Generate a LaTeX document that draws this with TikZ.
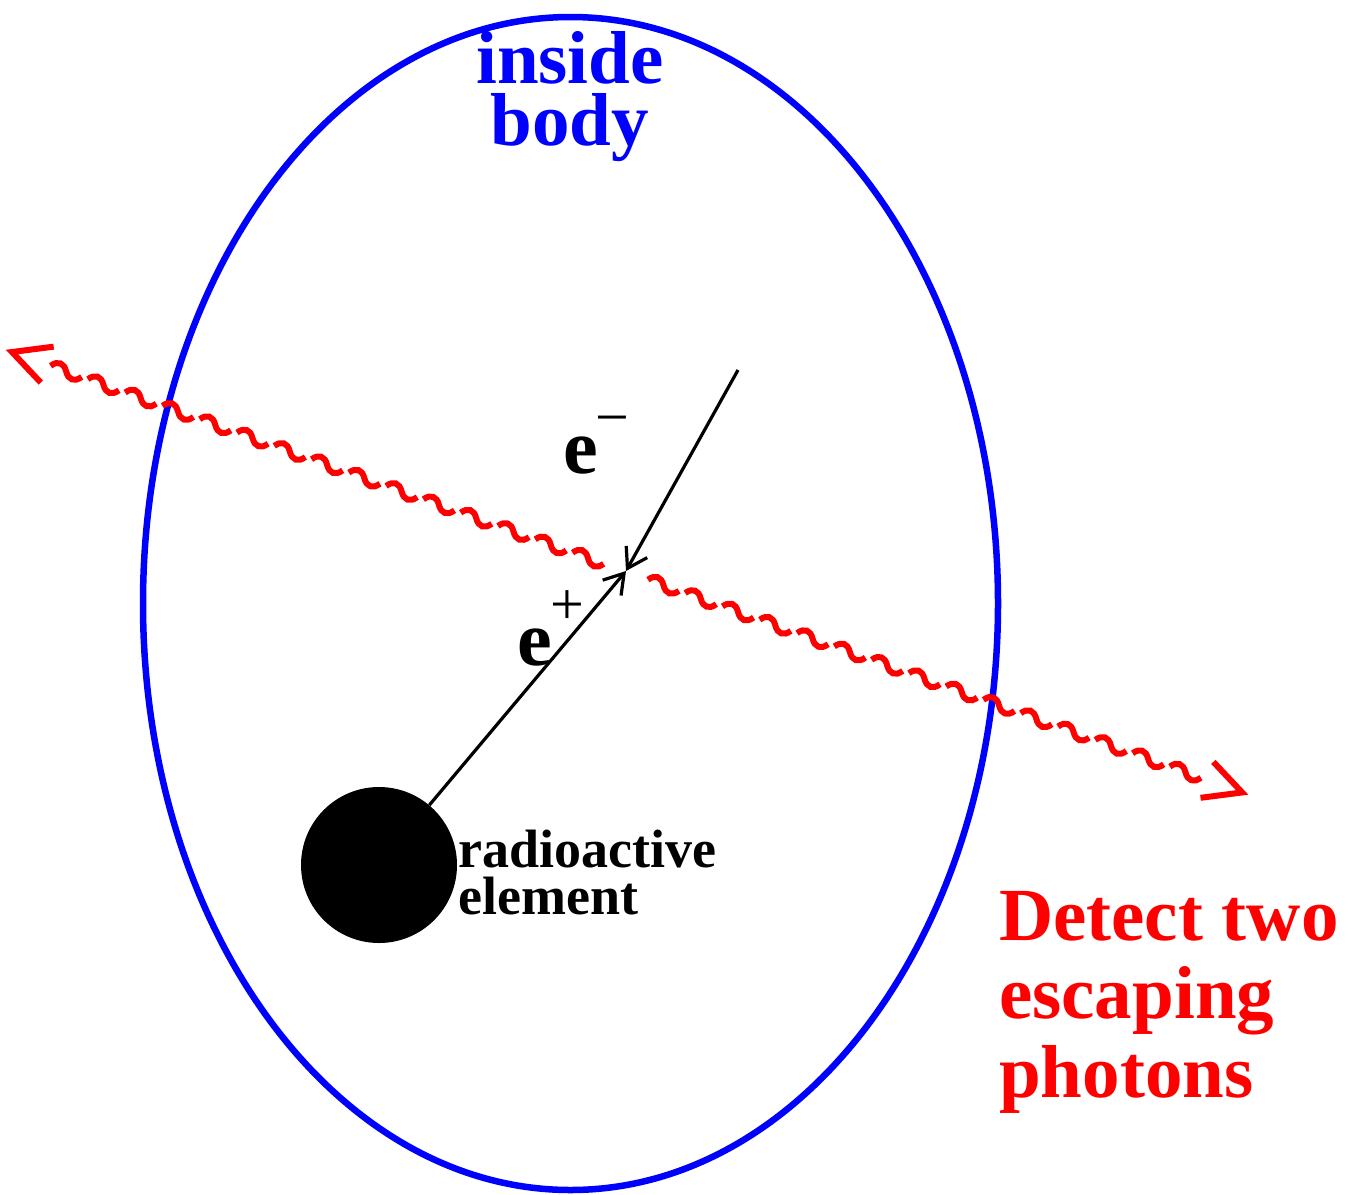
\documentclass[tikz,border=0pt]{standalone}
\usepackage{fontspec}
\setmainfont{Liberation Serif}
\usetikzlibrary{arrows.meta}
\begin{document}
\begin{tikzpicture}[x=1pt,y=-1pt,
  bodyline/.style={draw=blue, line width=6.5pt},
  photon/.style={draw=red, line width=6pt},
  eline/.style={draw=black, line width=3.2pt, -{Straight Barb[length=19pt,width=24pt]}},
  bigtxt/.style={inner sep=0pt, font=\bfseries\fontsize{75}{75}\selectfont},
  midtxt/.style={inner sep=0pt, font=\bfseries\fontsize{54}{54}\selectfont},
  suptxt/.style={inner sep=0pt, font=\fontsize{60}{60}\selectfont},
  etxt/.style={inner sep=0pt, font=\bfseries\fontsize{78}{78}\selectfont}]
\useasboundingbox (0,0) rectangle (1356,1194);

% body outline
\draw[bodyline] (570.5,603.5) ellipse [x radius=427.5, y radius=586.5];

% labels of the body
\node[bigtxt, text=blue, anchor=base] (in1) at (570,83) {inside};
\node[bigtxt, text=blue, anchor=base] (in2) at (570,145) {body};

% photons
\begin{scope}[shift={(12,352)}, rotate=-19.7]
  \coordinate (L) at (0,0);
  \coordinate (R) at (1306.7,0);
  \foreach \k in {0,...,14} {
    \pgfmathsetmacro{\s}{41+39.6*\k}
    \draw[photon] (\s,0) .. controls ({\s+5},-7.5) and ({\s+11.5},-7.5) .. ({\s+16.5},0)
                        .. controls ({\s+21.5},7.5) and ({\s+28},7.5) .. ({\s+33},0);
    \pgfmathsetmacro{\t}{675.5+39.6*\k}
    \draw[photon] (\t,0) .. controls ({\t+5},-7.5) and ({\t+11.5},-7.5) .. ({\t+16.5},0)
                        .. controls ({\t+21.5},7.5) and ({\t+28},7.5) .. ({\t+33},0);
  }
  \draw[photon] ({42*cos(27)},{42*sin(27)}) -- (L) -- ({42*cos(-27)},{42*sin(-27)});
  \draw[photon] ({1306.7+42*cos(153)},{42*sin(153)}) -- (R) -- ({1306.7+42*cos(207)},{42*sin(207)});
\end{scope}

% source and positron / electron
\node[circle, fill=black, minimum size=156pt, inner sep=0pt] (src) at (379,865) {};
\coordinate (X) at (626,571);
\coordinate (T) at (738,370);
\draw[eline] (src) -- (X);
\draw[eline] (T) -- (X);

\node[etxt, anchor=base west] (em) at (563,473) {e};
\node[suptxt, anchor=base west] (emsup) at (595,437) {−};
\node[etxt, anchor=base west] (ep) at (517,665) {e};
\node[suptxt, anchor=base west] (epsup) at (550,624) {+};

\node[midtxt, anchor=base west] (ra1) at (458,867) {radioactive};
\node[midtxt, anchor=base west] (ra2) at (458,914) {element};

\node[bigtxt, text=red, anchor=base west] (d1) at (999,940) {Detect two};
\node[bigtxt, text=red, anchor=base west] (d2) at (999,1018) {escaping};
\node[bigtxt, text=red, anchor=base west] (d3) at (999,1097) {photons};
\end{tikzpicture}
\end{document}
